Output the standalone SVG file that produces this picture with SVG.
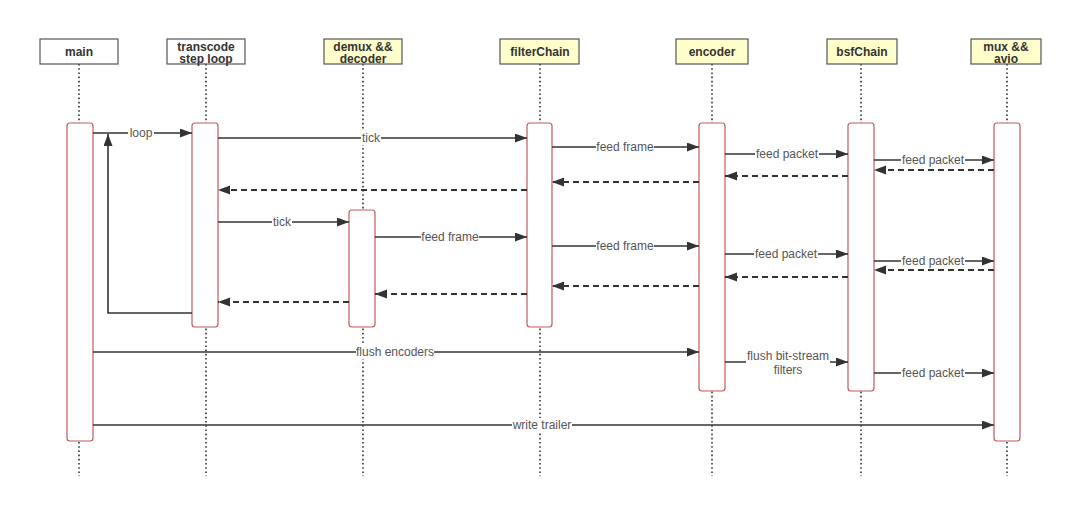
<svg xmlns="http://www.w3.org/2000/svg" width="1080" height="515" viewBox="0 0 1080 515">
<defs>
<marker id="ah" markerUnits="userSpaceOnUse" markerWidth="13" markerHeight="10" refX="12" refY="4.5" orient="auto">
<path d="M0,0 L12,4.5 L0,9 z" fill="#333"/>
</marker>
<style>
.hd{stroke:#555;stroke-width:1.2}
.hw{fill:#fff}
.hy{fill:#ffffcc}
.ht{font-family:"Liberation Sans",Arial,sans-serif;font-size:12px;font-weight:bold;fill:#333;text-anchor:middle}
.ll{stroke:#333;stroke-width:1.6;stroke-dasharray:1.6 2.6;fill:none}
.act{fill:#fff;stroke:#c55a5a;stroke-width:1.2}
.m{stroke:#333;stroke-width:1.6;fill:none;marker-end:url(#ah)}
.r{stroke:#333;stroke-width:1.8;stroke-dasharray:6 4;fill:none;marker-end:url(#ah)}
.lb{fill:#fff}
.lt{font-family:"Liberation Sans",Arial,sans-serif;font-size:12px;fill:#555;text-anchor:middle}
</style>
</defs>
<rect width="1080" height="515" fill="#fff"/>
<g id="lifelines">
<line class="ll" x1="79" y1="64" x2="79" y2="476"/>
<line class="ll" x1="206" y1="64" x2="206" y2="476"/>
<line class="ll" x1="363" y1="64" x2="363" y2="476"/>
<line class="ll" x1="540" y1="64" x2="540" y2="476"/>
<line class="ll" x1="712" y1="64" x2="712" y2="476"/>
<line class="ll" x1="861" y1="64" x2="861" y2="476"/>
<line class="ll" x1="1007" y1="64" x2="1007" y2="476"/>
</g>
<g id="main">
<rect class="hd hw" x="40" y="39" width="78" height="25"/>
<text class="ht" x="79" y="56">main</text>
<rect class="act" x="67" y="123" width="26" height="318" rx="3"/>
</g>
<g id="transcode">
<rect class="hd hw" x="167" y="39" width="78" height="25"/>
<text class="ht" x="206" y="51">transcode</text>
<text class="ht" x="206" y="63">step loop</text>
<rect class="act" x="192" y="123" width="26" height="204" rx="3"/>
</g>
<g id="demux">
<rect class="hd hy" x="324" y="39" width="78" height="25"/>
<text class="ht" x="363" y="51">demux &amp;&amp;</text>
<text class="ht" x="363" y="63">decoder</text>
<rect class="act" x="349" y="210" width="26" height="117" rx="3"/>
</g>
<g id="filterChain">
<rect class="hd hy" x="500" y="39" width="79" height="25"/>
<text class="ht" x="540" y="56">filterChain</text>
<rect class="act" x="527" y="123" width="25" height="204" rx="3"/>
</g>
<g id="encoder">
<rect class="hd hy" x="676" y="39" width="72" height="25"/>
<text class="ht" x="712" y="56">encoder</text>
<rect class="act" x="699" y="123" width="26" height="268" rx="3"/>
</g>
<g id="bsfChain">
<rect class="hd hy" x="827" y="39" width="70" height="25"/>
<text class="ht" x="862" y="56">bsfChain</text>
<rect class="act" x="848" y="123" width="26" height="268" rx="3"/>
</g>
<g id="mux">
<rect class="hd hy" x="971" y="39" width="70" height="25"/>
<text class="ht" x="1006" y="51">mux &amp;&amp;</text>
<text class="ht" x="1006" y="63">avio</text>
<rect class="act" x="994" y="123" width="26" height="318" rx="3"/>
</g>
<g id="connectors">
<line class="m" x1="93" y1="133" x2="192" y2="133"/>
<polyline class="m" points="192,313 108,313 108,134"/>
<line class="m" x1="218" y1="138" x2="527" y2="138"/>
<line class="m" x1="552" y1="147" x2="699" y2="147"/>
<line class="m" x1="725" y1="154" x2="848" y2="154"/>
<line class="m" x1="874" y1="160" x2="994" y2="160"/>
<line class="r" x1="994" y1="170" x2="874" y2="170"/>
<line class="r" x1="848" y1="176" x2="725" y2="176"/>
<line class="r" x1="699" y1="182" x2="552" y2="182"/>
<line class="r" x1="527" y1="190" x2="218" y2="190"/>
<line class="m" x1="218" y1="222" x2="349" y2="222"/>
<line class="m" x1="375" y1="237" x2="527" y2="237"/>
<line class="m" x1="552" y1="246" x2="699" y2="246"/>
<line class="m" x1="725" y1="254" x2="848" y2="254"/>
<line class="m" x1="874" y1="261" x2="994" y2="261"/>
<line class="r" x1="994" y1="270" x2="874" y2="270"/>
<line class="r" x1="848" y1="277" x2="725" y2="277"/>
<line class="r" x1="699" y1="286" x2="552" y2="286"/>
<line class="r" x1="527" y1="294" x2="375" y2="294"/>
<line class="r" x1="349" y1="302" x2="218" y2="302"/>
<line class="m" x1="93" y1="352" x2="699" y2="352"/>
<line class="m" x1="725" y1="362" x2="848" y2="362"/>
<line class="m" x1="874" y1="373" x2="994" y2="373"/>
<line class="m" x1="93" y1="425" x2="994" y2="425"/>
<rect class="lb" x="128" y="126" width="26" height="14"/>
<text class="lt" x="141" y="137">loop</text>
<rect class="lb" x="361" y="131" width="20" height="14"/>
<text class="lt" x="371" y="142">tick</text>
<rect class="lb" x="596" y="140" width="58" height="14"/>
<text class="lt" x="625" y="151">feed frame</text>
<rect class="lb" x="755" y="147" width="64" height="14"/>
<text class="lt" x="787" y="158">feed packet</text>
<rect class="lb" x="901" y="153" width="64" height="14"/>
<text class="lt" x="933" y="164">feed packet</text>
<rect class="lb" x="272" y="215" width="20" height="14"/>
<text class="lt" x="282" y="226">tick</text>
<rect class="lb" x="421" y="230" width="58" height="14"/>
<text class="lt" x="450" y="241">feed frame</text>
<rect class="lb" x="596" y="239" width="58" height="14"/>
<text class="lt" x="625" y="250">feed frame</text>
<rect class="lb" x="754" y="247" width="64" height="14"/>
<text class="lt" x="786" y="258">feed packet</text>
<rect class="lb" x="901" y="254" width="64" height="14"/>
<text class="lt" x="933" y="265">feed packet</text>
<rect class="lb" x="356" y="345" width="78" height="14"/>
<text class="lt" x="395" y="356">flush encoders</text>
<rect class="lb" x="746" y="349" width="84" height="28"/>
<text class="lt" x="788" y="360">flush bit-stream</text>
<text class="lt" x="788" y="374">filters</text>
<rect class="lb" x="901" y="366" width="64" height="14"/>
<text class="lt" x="933" y="377">feed packet</text>
<rect class="lb" x="512" y="418" width="60" height="14"/>
<text class="lt" x="542" y="429">write trailer</text>
</g>
</svg>
